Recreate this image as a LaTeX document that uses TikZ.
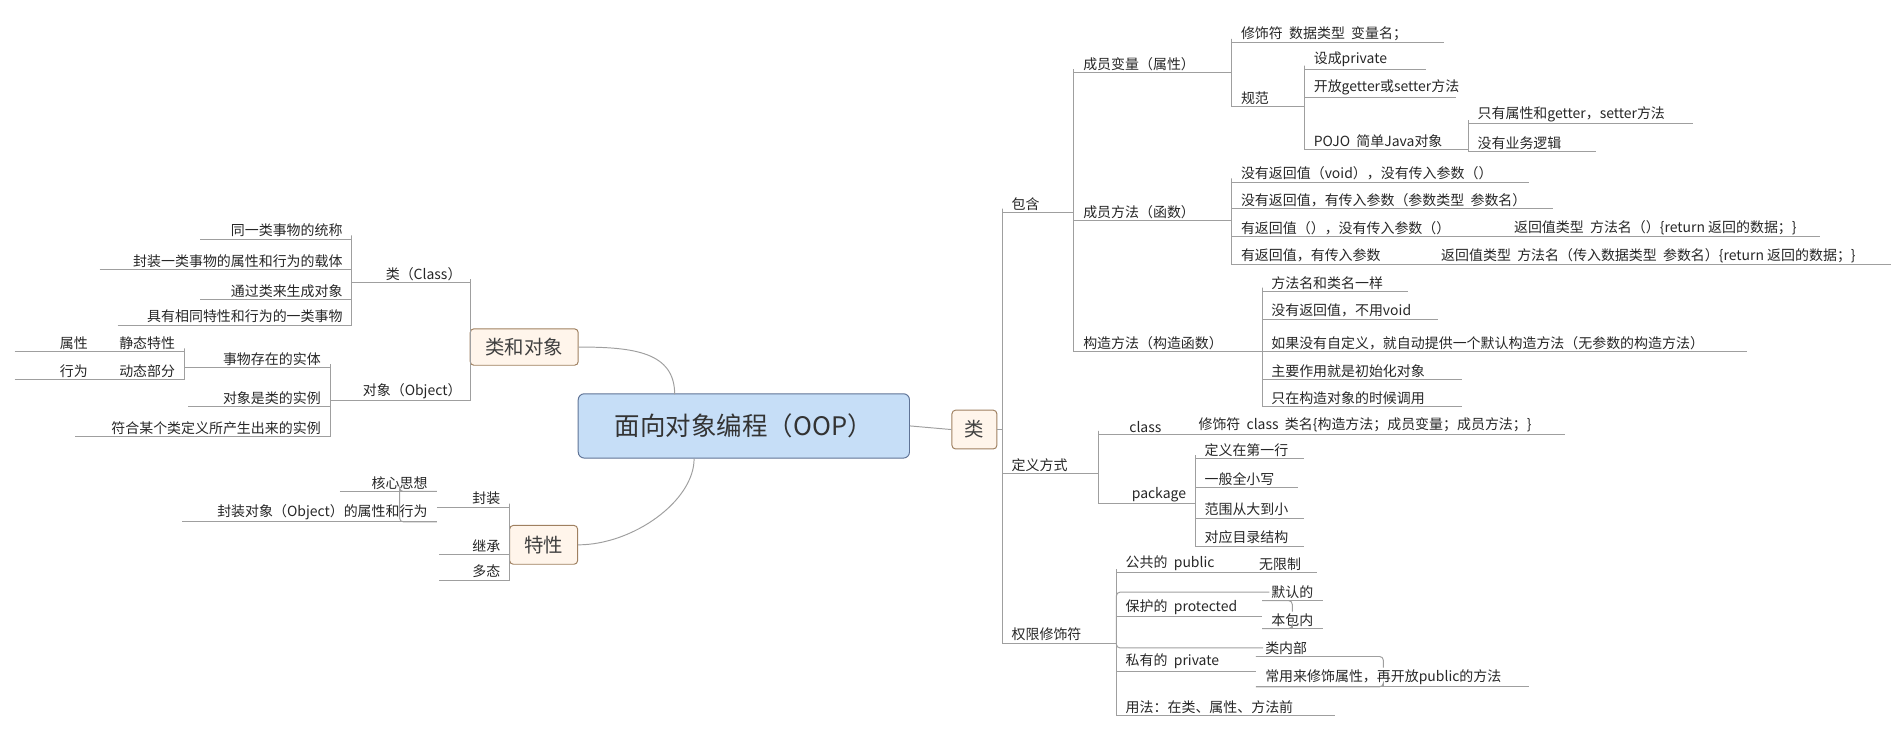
\documentclass[tikz,border=0pt]{standalone}
\usepackage{fontspec}
\setmainfont{Noto Sans CJK SC}
\definecolor{oopblue}{RGB}{198,222,247}
\definecolor{oopedge}{RGB}{95,115,150}
\begin{document}
\begin{tikzpicture}[x=1pt,y=-1pt,
  ln/.style={draw=gray!75,line width=0.8pt},
  t/.style={inner sep=1.5pt,font=\fontsize{11.5}{12}\selectfont,text=black!85},
  box/.style={draw=brown!50!gray,fill=orange!8,rounded corners=3pt,line width=0.8pt,font=\fontsize{16}{18}\selectfont,text=black!75,inner sep=0pt}]
\useasboundingbox (0,0) rectangle (1560,601);
\newcommand\R[5]{\coordinate (#1a) at (#2,#4); \coordinate (#1b) at (#3,#4);
  \draw[ln] (#1a)--(#1b); \node[t,anchor=south west] (#1) at ([xshift=6pt]#1a) {#5};}
\newcommand\Lf[5]{\coordinate (#1a) at (#2,#4); \coordinate (#1b) at (#3,#4);
  \draw[ln] (#1a)--(#1b); \node[t,anchor=south east] (#1) at ([xshift=-6pt]#1b) {#5};}
\newcommand\rc[2]{\draw[ln,rounded corners=3pt] (#1b) |- (#2a);}
\newcommand\lc[2]{\draw[ln,rounded corners=3pt] (#1a) |- (#2b);}
% central
\node[draw=oopedge,fill=oopblue,rounded corners=5pt,line width=0.8pt,minimum width=273pt,minimum height=53pt,font=\fontsize{21}{24}\selectfont,text=black!80] (oop) at (613,351) {面向对象编程（OOP）};
\node[box,minimum width=37pt,minimum height=32pt] (cls) at (803,354) {类};
\node[box,minimum width=89pt,minimum height=30pt] (lo) at (432,286) {类和对象};
\node[box,minimum width=56pt,minimum height=32pt] (tx) at (448,449) {特性};
\coordinate (oopt) at (556,325); \coordinate (oopb) at (572,378);
\draw[ln] (oop.east) -- (cls.west);
\draw[ln] (lo.east) .. controls +(45,0) and +(0,-35) .. (oopt);
\draw[ln] (tx.east) .. controls +(45,0) and +(0,35) .. (oopb);
% right side
\coordinate (clsjb) at (826,354); \draw[ln] (cls.east) -- (clsjb);
\R{bh}{826}{885}{175}{包含}
\R{dy}{826}{905}{390}{定义方式}
\R{qx}{826}{920}{530}{权限修饰符}
\rc{clsj}{bh}\rc{clsj}{dy}\rc{clsj}{qx}
\R{cb}{885}{1015}{60}{成员变量（属性）}
\R{cf}{885}{1015}{182}{成员方法（函数）}
\R{gz}{885}{1040}{290}{构造方法（构造函数）}
\rc{bh}{cb}\rc{bh}{cf}\rc{bh}{gz}
\R{vone}{1015}{1190}{35}{修饰符\ \ 数据类型\ \ 变量名；}
\R{gf}{1015}{1075}{88}{规范}
\rc{cb}{vone}\rc{cb}{gf}
\R{gone}{1075}{1175}{57}{设成private}
\R{gtwo}{1075}{1200}{80}{开放getter或setter方法}
\R{gthr}{1075}{1210}{123}{POJO\ \ 简单Java对象}
\rc{gf}{gone}\rc{gf}{gtwo}\rc{gf}{gthr}
\R{pone}{1210}{1395}{102}{只有属性和getter，setter方法}
\R{ptwo}{1210}{1315}{125}{没有业务逻辑}
\rc{gthr}{pone}\rc{gthr}{ptwo}
\R{fone}{1015}{1260}{150}{没有返回值（void），没有传入参数（）}
\R{ftwo}{1015}{1280}{172}{没有返回值，有传入参数（参数类型\ \ 参数名）}
\R{fthr}{1015}{1240}{195}{有返回值（），没有传入参数（）}
\R{fthrx}{1240}{1500}{195}{返回值类型\ \ 方法名（）\{return 返回的数据；\}}
\R{ffou}{1015}{1180}{218}{有返回值，有传入参数}
\R{ffoux}{1180}{1558}{218}{返回值类型\ \ 方法名（传入数据类型\ \ 参数名）\{return 返回的数据；\}}
\rc{cf}{fone}\rc{cf}{ftwo}\rc{cf}{fthr}\rc{cf}{ffou}
\R{cone}{1040}{1160}{240}{方法名和类名一样}
\R{ctwo}{1040}{1185}{263}{没有返回值，不用void}
\R{cthr}{1040}{1440}{290}{如果没有自定义，就自动提供一个默认构造方法（无参数的构造方法）}
\R{cfou}{1040}{1205}{313}{主要作用就是初始化对象}
\R{cfiv}{1040}{1205}{335}{只在构造对象的时候调用}
\rc{gz}{cone}\rc{gz}{ctwo}\rc{gz}{cthr}\rc{gz}{cfou}\rc{gz}{cfiv}
\R{dc}{905}{980}{358}{\hspace{18pt}class}
\R{dcx}{980}{1290}{358}{修饰符\ \ class\ \ 类名\{构造方法；成员变量；成员方法；\}}
\R{dp}{905}{985}{415}{\hspace{20pt}package}
\rc{dy}{dc}\rc{dy}{dp}
\R{done}{985}{1075}{378}{定义在第一行}
\R{dtwo}{985}{1070}{402}{一般全小写}
\R{dthr}{985}{1075}{427}{范围从大到小}
\R{dfou}{985}{1075}{450}{对应目录结构}
\rc{dp}{done}\rc{dp}{dtwo}\rc{dp}{dthr}\rc{dp}{dfou}
\R{qone}{920}{1030}{472}{公共的\ \ public}
\R{qonex}{1030}{1085}{472}{无限制}
\R{qtwo}{920}{1040}{508}{保护的\ \ protected}
\R{qtwoa}{1040}{1090}{495}{默认的}
\R{qtwob}{1040}{1090}{518}{本包内}
\R{qthr}{920}{1035}{553}{私有的\ \ private}
\R{qthra}{1035}{1080}{541}{类内部}
\R{qthrb}{1035}{1260}{566}{常用来修饰属性，再开放public的方法}
\R{qfou}{920}{1100}{590}{用法：在类、属性、方法前}
\rc{qx}{qone}\rc{qx}{qtwo}\rc{qx}{qthr}\rc{qx}{qfou}
\rc{qtwo}{qtwoa}\rc{qtwo}{qtwob}\rc{qthr}{qthra}\rc{qthr}{qthrb}
% left side
\coordinate (loja) at (388,286); \coordinate (txja) at (420,449);
\Lf{lcl}{290}{388}{233}{类（Class）}
\Lf{lob}{272}{388}{330}{对象（Object）}
\lc{loj}{lcl}\lc{loj}{lob}
\Lf{aone}{165}{290}{197}{同一类事物的统称}
\Lf{atwo}{82}{290}{222}{封装一类事物的属性和行为的载体}
\Lf{athr}{165}{290}{247}{通过类来生成对象}
\Lf{afou}{97}{290}{268}{具有相同特性和行为的一类事物}
\lc{lcl}{aone}\lc{lcl}{atwo}\lc{lcl}{athr}\lc{lcl}{afou}
\Lf{bone}{152}{272}{303}{事物存在的实体}
\Lf{btwo}{155}{272}{335}{对象是类的实例}
\Lf{bthr}{62}{272}{360}{符合某个类定义所产生出来的实例}
\lc{lob}{bone}\lc{lob}{btwo}\lc{lob}{bthr}
\Lf{sone}{80}{152}{290}{静态特性}
\Lf{stwo}{80}{152}{313}{动态部分}
\lc{bone}{sone}\lc{bone}{stwo}
\Lf{sonex}{12}{80}{290}{属性\hspace{18pt}}
\Lf{stwox}{12}{80}{313}{行为\hspace{18pt}}
\Lf{eone}{360}{420}{418}{封装}
\Lf{etwo}{362}{420}{457}{继承}
\Lf{ethr}{362}{420}{478}{多态}
\lc{txj}{eone}\lc{txj}{etwo}\lc{txj}{ethr}
\Lf{eonea}{280}{360}{405}{核心思想\hspace{24pt}}
\Lf{eoneb}{150}{360}{430}{封装对象（Object）的属性和行为}
\lc{eone}{eonea}\lc{eone}{eoneb}
\end{tikzpicture}
\end{document}
